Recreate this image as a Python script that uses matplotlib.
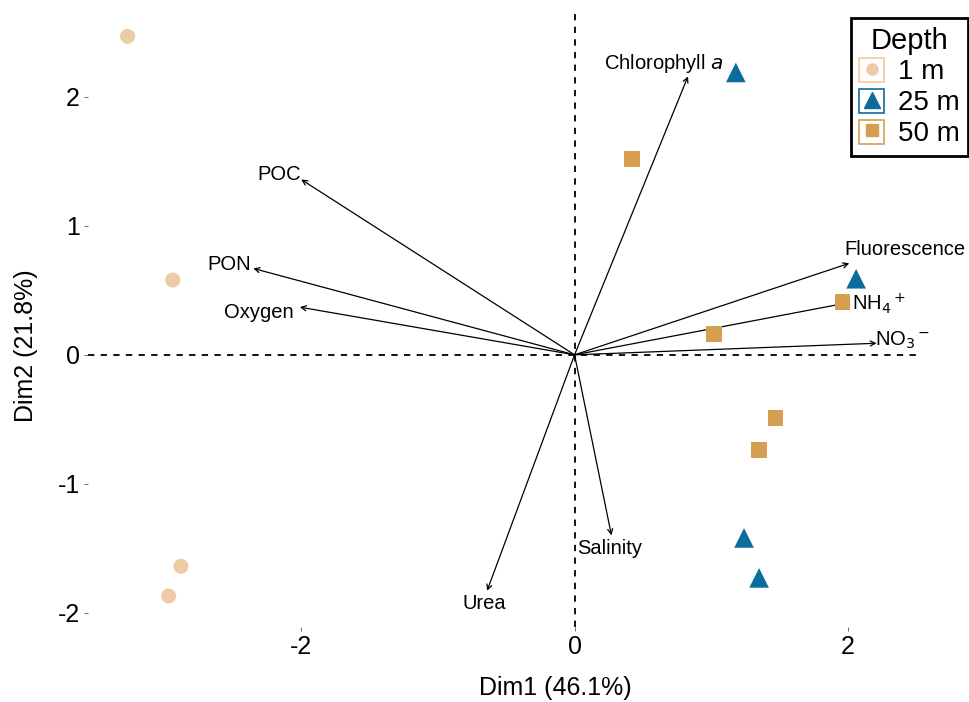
import numpy as np
from matplotlib import pyplot as plt
from matplotlib.patches import Rectangle
from matplotlib.lines import Line2D

plt.rcParams['font.family'] = ['Liberation Sans', 'DejaVu Sans']

# sample scores
depths = ['1 m', '25 m', '50 m']
x_1m = [-3.27, -2.94, -2.88, -2.97]
y_1m = [2.47, 0.58, -1.64, -1.87]
x_25m = [1.18, 2.06, 1.24, 1.35]
y_25m = [2.19, 0.59, -1.42, -1.73]
x_50m = [0.42, 1.96, 1.02, 1.47, 1.35]
y_50m = [1.52, 0.41, 0.16, -0.49, -0.74]

# variable loadings (arrow tips) and label positions
var_names = ['Chlorophyll $\\mathit{a}$', 'POC', 'PON', 'Oxygen', 'Fluorescence',
             'NH$_4$$^+$', 'NO$_3$$^-$', 'Salinity', 'Urea']
var_x = [0.83, -2.00, -2.35, -2.01, 2.01, 1.98, 2.21, 0.27, -0.64]
var_y = [2.16, 1.36, 0.67, 0.37, 0.71, 0.40, 0.09, -1.40, -1.83]
lab_x = [0.65, -2.16, -2.53, -2.31, 2.42, 2.23, 2.40, 0.26, -0.66]
lab_y = [2.26, 1.40, 0.70, 0.33, 0.82, 0.40, 0.11, -1.50, -1.93]

colors = ['#EECBA7', '#0B6D9B', '#D69E4F']
markers = ['o', '^', 's']
sizes = [117, 200, 130]

fig = plt.figure(figsize=(9.7, 7.02), dpi=100)
ax = fig.add_axes([0.0907, 0.107, 0.8553, 0.8816])

ax.axhline(0, color='black', linestyle=(0, (3.5, 3.5)), linewidth=1.3, zorder=1)
ax.axvline(0, color='black', linestyle=(0, (3.5, 3.5)), linewidth=1.3, zorder=1)

for xs, ys, c, m, s in zip([x_1m, x_25m, x_50m], [y_1m, y_25m, y_50m], colors, markers, sizes):
    ax.scatter(xs, ys, c=c, marker=m, s=s, edgecolors='none', zorder=3)

for name, vx, vy, lx, ly in zip(var_names, var_x, var_y, lab_x, lab_y):
    ax.annotate('', xy=(vx, vy), xytext=(0, 0),
                arrowprops=dict(arrowstyle='->', color='black', lw=0.9,
                                shrinkA=0, shrinkB=0, mutation_scale=9), zorder=2)
    ax.text(lx, ly, name, ha='center', va='center', fontsize=14.5, zorder=4)

ax.set_xlim(-3.56, 2.51)
ax.set_ylim(-2.11, 2.69)
ax.set_xticks([-2, 0, 2])
ax.set_yticks([-2, -1, 0, 1, 2])
ax.set_xticklabels(['-2', '0', '2'])
ax.set_yticklabels(['-2', '-1', '0', '1', '2'])
ax.tick_params(length=3, width=0.6, color='#555555', labelsize=18, pad=3)
for sp in ax.spines.values():
    sp.set_visible(False)
ax.set_xlabel('Dim1 (46.1%)', fontsize=18)
ax.set_ylabel('Dim2 (21.8%)', fontsize=18)
ax.xaxis.set_label_coords(555 / 970, 1 - 688 / 702, transform=fig.transFigure)
ax.yaxis.set_label_coords(26 / 970, 1 - 346 / 702, transform=fig.transFigure)
ax.xaxis.label.set_va('center')
ax.yaxis.label.set_va('center')

handles = []
for c, m in zip(colors, markers):
    box = Rectangle((0, 0), 1, 1, facecolor='white', edgecolor=c, linewidth=1.2)
    mk = Line2D([], [], linestyle='none', marker=m, color=c,
                markersize=8 if m != '^' else 11)
    handles.append((box, mk))
leg = fig.legend(handles, depths, title='Depth', loc='upper left',
                 bbox_to_anchor=(0.877, 0.974), bbox_transform=fig.transFigure,
                 borderaxespad=0, fontsize=20, title_fontsize=21,
                 handlelength=0.9, handleheight=0.95, handletextpad=0.5,
                 labelspacing=0.12, borderpad=0.3, fancybox=False,
                 edgecolor='black', framealpha=1)
leg.get_frame().set_linewidth(2)

fig.savefig('out.png', dpi=100)
